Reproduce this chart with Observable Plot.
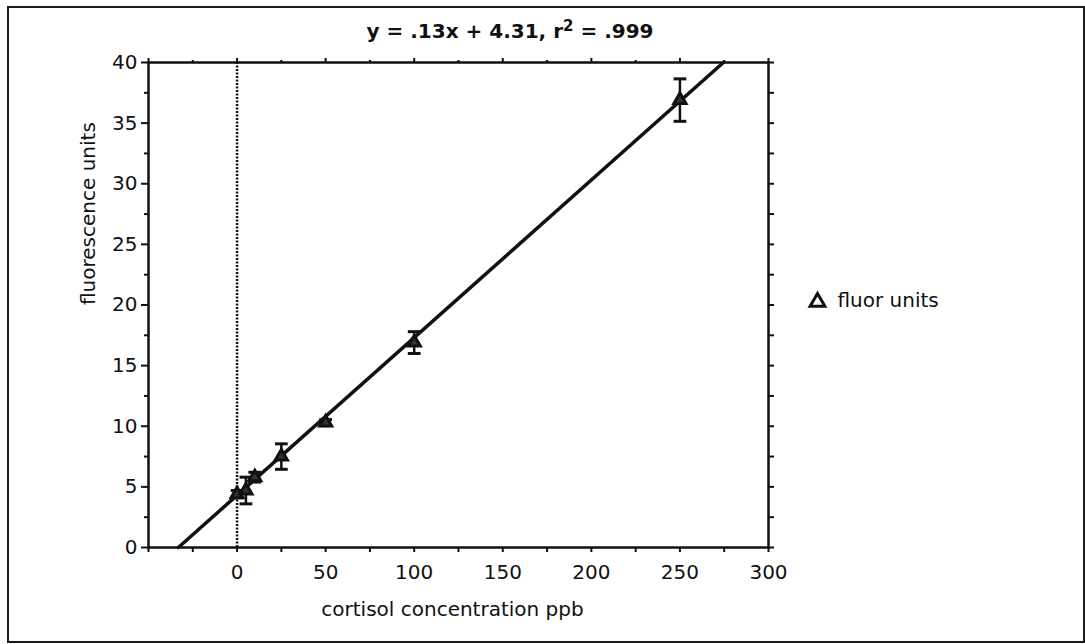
<!DOCTYPE html>
<html>
<head>
<meta charset="utf-8">
<script src="https://cdn.jsdelivr.net/npm/d3@7"></script>
<script src="https://cdn.jsdelivr.net/npm/@observablehq/plot@0.6"></script>
<style>
  html, body { margin: 0; padding: 0; background: #fff; }
  #wrap { position: relative; width: 1085px; height: 644px; overflow: hidden; font-family: "DejaVu Sans", sans-serif; color: #111; }
  #border { position: absolute; left: 7px; top: 6px; width: 1074px; height: 633px; border: 2px solid #1a1a1a; pointer-events: none; }
  #title { position: absolute; left: 0; width: 1020px; top: 19px; text-align: center; font-weight: bold; font-size: 20px; line-height: 24px; color: #111; }
  #title sup { font-size: 15px; line-height: 0; vertical-align: 7px; }
  #chart { position: absolute; left: 0; top: 0; }
</style>
</head>
<body>
<div id="wrap">
  <div id="chart"></div>
  <div id="title">y = .13x + 4.31, r<sup>2</sup> = .999</div>
  <div id="border"></div>
</div>
<script>
// ---- data ----
const concentration = [0, 5, 10, 25, 50, 100, 250];          // cortisol ppb
const fluorescence  = [4.4, 4.7, 5.8, 7.5, 10.3, 16.9, 36.9]; // fluor units
const errorBars     = [0.3, 1.1, 0.4, 1.05, 0.25, 0.9, 1.75];
const fitSlope = 0.13;
const fitIntercept = 4.31;
const xMajorTicks = [0, 50, 100, 150, 200, 250, 300];
const xAllTicks = [-50, -25, 0, 25, 50, 75, 100, 125, 150, 175, 200, 225, 250, 275, 300];
const yMajorTicks = [0, 5, 10, 15, 20, 25, 30, 35, 40];
const yMinorTicks = [2.5, 7.5, 12.5, 17.5, 22.5, 27.5, 32.5, 37.5];
const seriesName = "fluor units";
const xLabel = "cortisol concentration ppb";
const yLabel = "fluorescence units";

const xDomain = [-50, 300];
const yDomain = [0, 40];

const points = concentration.map((x, i) => ({x, y: fluorescence[i], e: errorBars[i]}));
// fit line, clipped to the y range
const fitLine = [
  {x: (yDomain[0] - fitIntercept) / fitSlope, y: yDomain[0]},
  {x: (yDomain[1] - fitIntercept) / fitSlope, y: yDomain[1]}
];

const ink = "#111";
const capSymbol = {
  draw(ctx, size) {
    const w = Math.sqrt(size);
    ctx.moveTo(-w, 0);
    ctx.lineTo(w, 0);
  }
};

const chart = Plot.plot({
  width: 1085,
  height: 644,
  marginLeft: 148,
  marginRight: 317,
  marginTop: 62,
  marginBottom: 97,
  style: {fontFamily: "DejaVu Sans, sans-serif", fontSize: "20px", color: ink, background: "transparent"},
  x: {domain: xDomain},
  y: {domain: yDomain},
  marks: [
    // vertical dotted line at x = 0
    Plot.ruleX([0], {stroke: ink, strokeWidth: 2.5, strokeDasharray: "2,1.5"}),
    // bottom axis
    Plot.axisX({anchor: "bottom", ticks: xAllTicks, tickSize: 5, tickPadding: 12, strokeWidth: 2,
      tickFormat: d => xMajorTicks.includes(d) ? String(d) : "", label: null, fill: ink, stroke: ink}),
    // top axis (ticks only)
    Plot.axisX({anchor: "top", ticks: xMajorTicks.concat([-50]), tickSize: 5, strokeWidth: 2,
      tickFormat: () => "", label: null, stroke: ink}),
    Plot.axisX({anchor: "top", ticks: xAllTicks.filter(d => !xMajorTicks.includes(d) && d !== -50), tickSize: 3, strokeWidth: 2,
      tickFormat: () => "", label: null, stroke: ink}),
    // left axis
    Plot.axisY({anchor: "left", ticks: yMajorTicks, tickSize: 7, tickPadding: 4, strokeWidth: 2,
      label: null, fill: ink, stroke: ink}),
    Plot.axisY({anchor: "left", ticks: yMinorTicks, tickSize: 4, strokeWidth: 2,
      tickFormat: () => "", label: null, stroke: ink}),
    // right axis (ticks only)
    Plot.axisY({anchor: "right", ticks: yMajorTicks.concat(yMinorTicks), tickSize: 5, strokeWidth: 2,
      tickFormat: () => "", label: null, stroke: ink}),
    Plot.frame({stroke: ink, strokeWidth: 2.5}),
    // fit line
    Plot.line(fitLine, {x: "x", y: "y", stroke: ink, strokeWidth: 3.5}),
    // error bars
    Plot.ruleX(points, {x: "x", y1: d => d.y - d.e, y2: d => d.y + d.e, stroke: ink, strokeWidth: 2.5}),
    Plot.dot(points, {x: "x", y: d => d.y + d.e, symbol: capSymbol, r: 3.6, stroke: ink, strokeWidth: 3, fill: "none"}),
    Plot.dot(points, {x: "x", y: d => d.y - d.e, symbol: capSymbol, r: 3.6, stroke: ink, strokeWidth: 3, fill: "none"}),
    // data markers
    Plot.dot(points, {x: "x", y: "y", symbol: "triangle", r: 4.5, stroke: ink, strokeWidth: 3, fill: "#333"}),
    // axis labels
    Plot.text([xLabel], {frameAnchor: "bottom", dx: -6, dy: 62, fill: ink, fontSize: 20, lineAnchor: "middle"}),
    Plot.text([yLabel], {frameAnchor: "left", dx: -60, rotate: -90, fill: ink, fontSize: 20, lineAnchor: "middle"}),
    // legend
    Plot.dot([seriesName], {frameAnchor: "right", dx: 49, dy: -3, symbol: "triangle", r: 5.5, stroke: ink, strokeWidth: 3, fill: "none"}),
    Plot.text([seriesName], {frameAnchor: "right", dx: 69, dy: -4, textAnchor: "start", fill: ink, fontSize: 20, lineAnchor: "middle"})
  ]
});
document.getElementById("chart").appendChild(chart);
</script>
</body>
</html>
